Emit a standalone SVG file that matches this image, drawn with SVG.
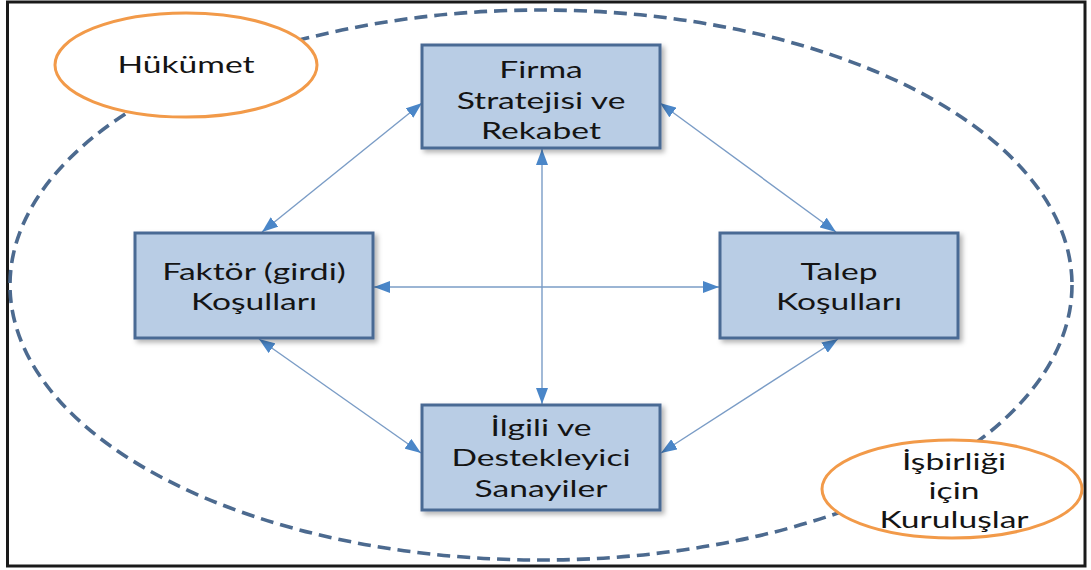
<svg xmlns="http://www.w3.org/2000/svg" width="1091" height="570" viewBox="0 0 1091 570">
  <style>
    .box { fill: #B9CDE5; stroke: #4A6A94; stroke-width: 3; }
    .oval { fill: #FFFFFF; stroke: #F29A49; stroke-width: 3; }
    .lbl { font-family: Lato, "Open Sans", "Liberation Sans", sans-serif; font-size: 24px; fill: #141414; text-anchor: middle; }
    .link { stroke: #7A9CC6; stroke-width: 1.4; fill: none; marker-start: url(#head); marker-end: url(#head); }
  </style>
  <defs>
    <marker id="head" viewBox="0 0 16 12" refX="16" refY="6" markerWidth="16" markerHeight="12" markerUnits="userSpaceOnUse" orient="auto-start-reverse">
      <path d="M0,0 L16,6 L0,12 Z" fill="#4A86C8"/>
    </marker>
    <filter id="shadow" x="-10%" y="-10%" width="125%" height="130%">
      <feDropShadow dx="3" dy="3" stdDeviation="2.5" flood-color="#000000" flood-opacity="0.3"/>
    </filter>
  </defs>

  <!-- page frame -->
  <rect x="0" y="0" width="1091" height="570" fill="#FFFFFF"/>
  <rect x="7.5" y="2" width="1077.5" height="564" fill="none" stroke="#1A1A1A" stroke-width="3"/>

  <!-- national boundary -->
  <ellipse id="boundary" cx="541" cy="285" rx="531" ry="275" fill="none" stroke="#4C6A8F" stroke-width="3.6" stroke-dasharray="13 7"/>

  <!-- connectors -->
  <g id="connectors">
    <line class="link" x1="422" y1="103" x2="262" y2="232"/>
    <line class="link" x1="660" y1="103" x2="836" y2="232"/>
    <line class="link" x1="542" y1="149" x2="542" y2="404"/>
    <line class="link" x1="374" y1="287" x2="719" y2="287"/>
    <line class="link" x1="259" y1="339" x2="421" y2="453"/>
    <line class="link" x1="838" y1="339" x2="661" y2="453"/>
  </g>

  <!-- labels are widened horizontally: translate to the anchor, then scale x -->
  <g id="hukumet">
    <ellipse class="oval" cx="186" cy="65" rx="131" ry="52"/>
    <text class="lbl" transform="translate(186,73) scale(1.4,1)">Hükümet</text>
  </g>

  <g id="isbirligi">
    <ellipse class="oval" cx="952" cy="489" rx="130" ry="49"/>
    <text class="lbl" transform="translate(954,470) scale(1.4,1)">İşbirliği</text>
    <text class="lbl" transform="translate(954,499) scale(1.4,1)">için</text>
    <text class="lbl" transform="translate(954,528) scale(1.4,1)">Kuruluşlar</text>
  </g>

  <g id="firma">
    <rect class="box" x="422" y="45" width="238" height="103" filter="url(#shadow)"/>
    <text class="lbl" transform="translate(541,78) scale(1.4,1)">Firma</text>
    <text class="lbl" transform="translate(541,109) scale(1.4,1)">Stratejisi ve</text>
    <text class="lbl" transform="translate(541,139) scale(1.4,1)">Rekabet</text>
  </g>

  <g id="faktor">
    <rect class="box" x="135" y="233" width="238" height="105" filter="url(#shadow)"/>
    <text class="lbl" transform="translate(254,280) scale(1.4,1)">Faktör (girdi)</text>
    <text class="lbl" transform="translate(254,310) scale(1.4,1)">Koşulları</text>
  </g>

  <g id="talep">
    <rect class="box" x="720" y="233" width="238" height="105" filter="url(#shadow)"/>
    <text class="lbl" transform="translate(839,280) scale(1.4,1)">Talep</text>
    <text class="lbl" transform="translate(839,310) scale(1.4,1)">Koşulları</text>
  </g>

  <g id="ilgili">
    <rect class="box" x="422" y="405" width="238" height="105" filter="url(#shadow)"/>
    <text class="lbl" transform="translate(541,436) scale(1.4,1)">İlgili ve</text>
    <text class="lbl" transform="translate(541,466) scale(1.4,1)">Destekleyici</text>
    <text class="lbl" transform="translate(541,497) scale(1.4,1)">Sanayiler</text>
  </g>
</svg>
